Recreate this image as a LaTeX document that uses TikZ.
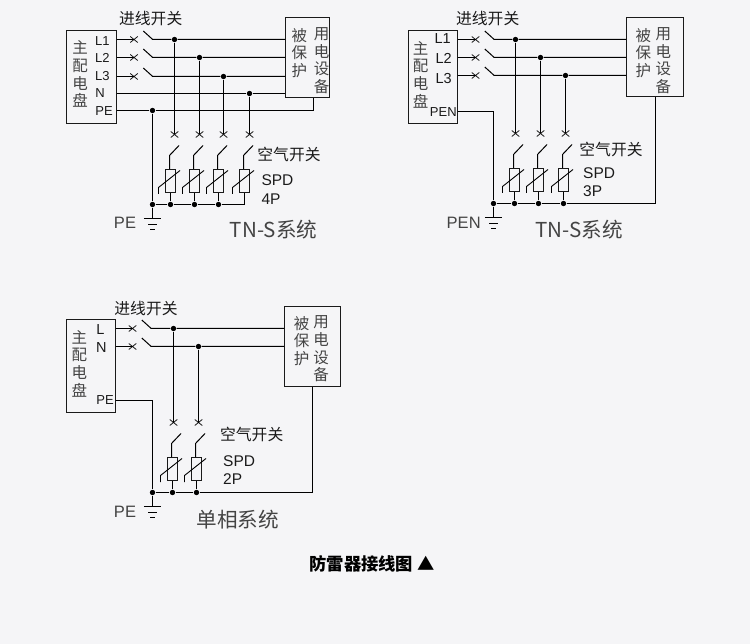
\documentclass[tikz,border=0pt]{standalone}
\usepackage{fontspec}
\setmainfont{Liberation Sans}
\newfontfamily\cjk{Noto Sans CJK SC}
\usetikzlibrary{shapes.misc}
\definecolor{bgcol}{HTML}{F5F5F7}
\definecolor{inkcol}{HTML}{1A1A1A}
\definecolor{softcol}{HTML}{444444}
\tikzstyle{dot}=[circle, inner sep=0, minimum size=5.4pt, fill=black]
\tikzstyle{corner}=[circle, inner sep=0, minimum size=0pt]
\tikzstyle{brk}=[cross out, draw=inkcol, line width=.8pt, inner sep=0, outer sep=0, minimum width=7.5pt, minimum height=6pt]
\tikzstyle{spd}=[draw=inkcol, line width=1pt, inner sep=0, minimum width=10pt, minimum height=23pt]
\tikzstyle{panel}=[draw=inkcol, line width=.9pt, inner sep=0]
\tikzstyle{term}=[font=\fontsize{13}{15}\selectfont, text=inkcol, inner sep=0]
\tikzstyle{big}=[font=\fontsize{15.5}{18}\selectfont, text=inkcol, inner sep=0]
\tikzstyle{gnd}=[font=\fontsize{16.5}{18}\selectfont, text=softcol, inner sep=0]
\tikzstyle{zh}=[font=\cjk\fontsize{15.5}{17.6}\selectfont, text=softcol, align=center, inner sep=0]
\tikzstyle{head}=[font=\cjk\fontsize{15.8}{18}\selectfont, text=inkcol, inner sep=0]
\tikzstyle{sys}=[font=\cjk\fontsize{20.6}{24}\selectfont, text=softcol, inner sep=0]
\begin{document}
\begin{tikzpicture}[x=1pt, y=-1pt, line width=1pt, color=black]
    \fill[bgcol] (0,0) rectangle (750,644);
    \useasboundingbox (0,0) rectangle (750,644);
    \foreach \p/\xa/\ya/\xb/\yb in
      {A/66.5/30.5/116.5/123.5, B/408.5/30.5/457.5/123.5, C/66.5/319.5/115.5/412.5}
    \node[panel, minimum width=\xb pt-\xa pt, minimum height=\yb pt-\ya pt] (main\p) at ({(\xa+\xb)/2},{(\ya+\yb)/2}) {};
    \foreach \p/\xa/\ya/\xb/\yb in
      {A/285.5/17.5/329.5/97.5, B/626.5/17.5/683.5/96.5, C/284.5/306.5/340.5/386.5}
    \node[panel, line width=1pt, minimum width=\xb pt-\xa pt, minimum height=\yb pt-\ya pt] (load\p) at ({(\xa+\xb)/2},{(\ya+\yb)/2}) {};
    \node[zh] (txtA) at (80,74.2) {主\\配\\电\\盘};
    \node[zh] (txtB) at (420.7,74.7) {主\\配\\电\\盘};
    \node[zh] (txtC) at (79.3,363.7) {主\\配\\电\\盘};
    \node[zh] (prA) at (299.3,53) {被\\保\\护};
    \node[zh] (useA) at (321.7,60.5) {用\\电\\设\\备};
    \node[zh] (prB) at (643.3,53) {被\\保\\护};
    \node[zh] (useB) at (663.3,60.5) {用\\电\\设\\备};
    \node[zh] (prC) at (301.7,340.8) {被\\保\\护};
    \node[zh] (useC) at (321,349) {用\\电\\设\\备};
    \foreach \n/\t/\x/\y in
      {l1/L1/102.3/40.7, l2/L2/102.3/58.3, l3/L3/102.3/75.7, l4/N/100/93.3, l5/PE/104/111.3,
       m4/PEN/443.3/111.7,
       o3/PE/105/400.3}
    \node[term] (\n) at (\x,\y) {\t};
    \foreach \n/\t/\x/\y in
      {m1/L1/442.7/38.3, m2/L2/443.7/58.3, m3/L3/443.7/79, o1/L/100.3/329.3, o2/N/101.3/347.3}
    \node[term, font=\fontsize{14.5}{16}\selectfont] (\n) at (\x,\y) {\t};
    \foreach \n/\t/\x/\y in
      {ia/进线开关/150.7/19, ib/进线开关/487.7/19, ic/进线开关/146/308.3,
       aa/空气开关/289/154, ab/空气开关/611/149, ac/空气开关/251.7/434}
    \node[head] (\n) at (\x,\y) {\t};
    \foreach \n/\t/\x/\y in
      {sa/SPD/261/180, pa/4P/261/199, sb/SPD/582.7/172.7, pb/3P/582.7/191, sc/SPD/222.7/461, pc/2P/222.7/479}
    \node[big, anchor=west] (\n) at (\x,\y) {\t};
    \foreach \n/\t/\x/\y in
      {ea/PE/125/223, eb/PEN/463.7/223.3, ec/PE/125/512.3}
    \node[gnd] (\n) at (\x,\y) {\t};
    \node[sys] (sysA) at (273.7,230) {TN-S系统};
    \node[sys] (sysB) at (579,230) {TN-S系统};
    \node[sys] (sysC) at (237.7,520) {单相系统};
    \node[font=\cjk\bfseries\fontsize{17.3}{20}\selectfont, inner sep=0] (title) at (372,564) {防雷器接线图 ▲};
    \foreach \p/\n/\y/\kx/\dx in
      {A/a1/39.5/134/174.5, A/a2/57.5/134/199.5, A/a3/76.5/134/223.5,
       B/b1/39.5/475.5/515.5, B/b2/57.5/475.5/540.5, B/b3/75.5/475.5/565.5,
       C/c1/328.5/132.5/173.5, C/c2/346.5/132.5/198.5}
    {
      \node[brk] (f\n) at (\kx,\y) {};
      \coordinate (u\n) at (\kx+9.3,\y-8.5);
      \coordinate (v\n) at (\kx+18.7,\y);
      \node[dot] (d\n) at (\dx,\y) {};
      \draw (main\p.east |- f\n) -- (f\n.center);
      \draw (u\n) -- (v\n) -- (d\n) -- (load\p.west |- d\n);
    }
    \node[dot] (da4) at (249.5,93.5) {};
    \draw (mainA.east |- da4) -- (da4) -- (loadA.west |- da4);
    \foreach \n/\cx/\sx/\yt/\st in
      {a1/174.5/170.5/134.5/dot, a2/199.5/194.5/134.5/dot, a3/223.5/218.5/134.5/dot, a4/249.5/244.5/134.5/corner,
       b1/515.5/514.5/133.5/dot, b2/540.5/538.5/133.5/dot, b3/565.5/563.5/133.5/dot,
       c1/173.5/172.5/422.5/dot, c2/198.5/196.5/422.5/dot}
    {
      \node[brk] (x\n) at (\cx,\yt) {};
      \coordinate (st\n) at (\sx+8.5,\yt+11);
      \coordinate (sb\n) at (\sx-1,\yt+21);
      \node[spd] (spd\n) at (\sx,\yt+46.5) {};
      \coordinate (ka\n) at (\sx-12,\yt+59.5);
      \coordinate (kb\n) at (\sx-12,\yt+53);
      \coordinate (kc\n) at (\sx+9.5,\yt+36);
      \node[\st] (bus\n) at (\sx,\yt+70) {};
      \draw (d\n) -- (x\n.center);
      \draw (st\n) -- (sb\n) -- (sb\n |- spd\n.north);
      \draw (spd\n) -- (bus\n);
      \draw[line width=.9pt] (ka\n) -- (kb\n) -- (kc\n);
    }
    \foreach \g/\x/\y/\r in {A/152.5/204.5/218.5, B/493.5/203.5/217.5, C/152.5/492.5/506.5}
    {
      \node[dot] (join\g) at (\x,\y) {};
      \coordinate (g\g) at (\x,\r);
      \draw (join\g) -- (g\g);
      \draw (g\g) ++(-8.7,0) -- ++(17.4,0);
      \draw[line width=.8pt] (g\g) ++(-4.5,6) -- ++(9,0);
      \draw[line width=.8pt] (g\g) ++(-2.2,11) -- ++(4.4,0);
    }
    \node[dot] (peA) at (152.5,110.5) {};
    \coordinate (peTurnA) at (313.5,110.5);
    \draw (mainA.east |- peA) -- (peA) -- (peTurnA) -- (loadA.south -| peTurnA);
    \draw (peA) -- (joinA) -- (busa1) -- (busa2) -- (busa3) -- (busa4.center) -- (spda4.south);
    \coordinate (penB) at (493.5,111.5);
    \coordinate (rtB) at (655.5,203.5);
    \draw (mainB.east |- penB) -- (penB) -- (joinB) -- (busb1) -- (busb2) -- (busb3) -- (rtB) -- (loadB.south -| rtB);
    \coordinate (peC) at (152.5,400.5);
    \coordinate (rtC) at (312.5,492.5);
    \draw (mainC.east |- peC) -- (peC) -- (joinC) -- (busc1) -- (busc2) -- (rtC) -- (loadC.south -| rtC);
\end{tikzpicture}
\end{document}
